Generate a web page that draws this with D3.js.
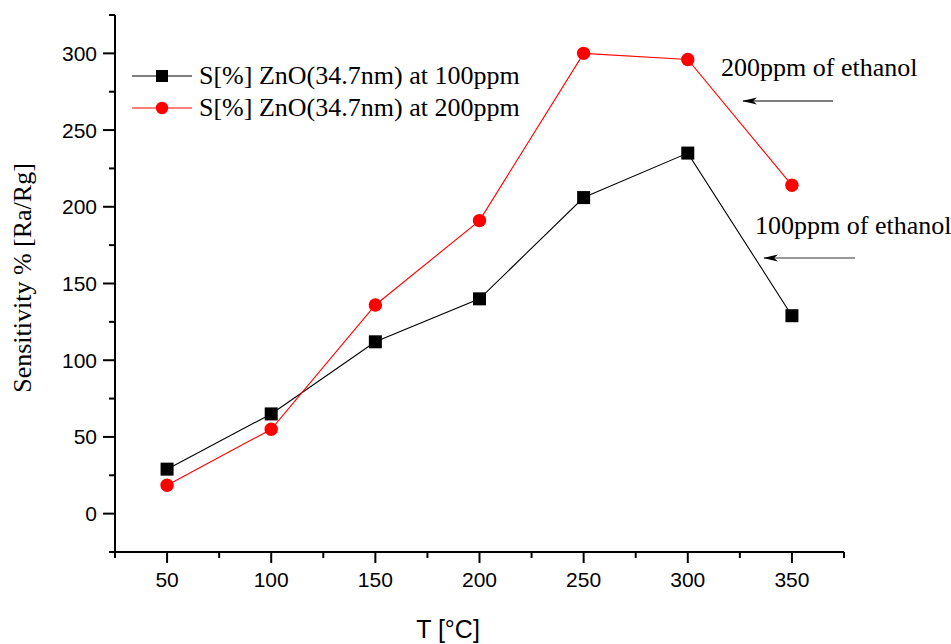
<!DOCTYPE html>
<html>
<head>
<meta charset="utf-8">
<script src="https://cdn.jsdelivr.net/npm/d3@7"></script>
<style>
  body { margin: 0; background: #fff; }
  svg { display: block; }
</style>
</head>
<body>
<div id="chart"></div>
<script>
const temps = [50, 100, 150, 200, 250, 300, 350];
const s100 = [29, 65, 112, 140, 206, 235, 129];
const s200 = [18.5, 55, 136, 191, 300, 296, 214];
const seriesNames = ["S[%] ZnO(34.7nm) at 100ppm", "S[%] ZnO(34.7nm) at 200ppm"];
const xTicks = [50, 100, 150, 200, 250, 300, 350];
const yTicks = [0, 50, 100, 150, 200, 250, 300];

const width = 951;
const height = 644;
const serif = "'Liberation Serif', 'Times New Roman', serif";
const sans = "'Liberation Sans', Arial, sans-serif";

const svg = d3.select("#chart").append("svg")
    .attr("width", width)
    .attr("height", height);

// scales
const x = d3.scaleLinear().domain([25, 375]).range([115, 844]);
const y = d3.scaleLinear().domain([-25, 325]).range([552, 15]);

// axes
const xAxis = svg.append("g")
    .attr("transform", "translate(0,552)");
xAxis.append("line")
    .attr("x1", x(25)).attr("x2", x(375))
    .attr("stroke", "#000").attr("stroke-width", 2);
xAxis.selectAll(".minor")
    .data(d3.range(25, 376, 50))
    .join("line")
    .attr("x1", d => x(d)).attr("x2", d => x(d))
    .attr("y1", 0).attr("y2", 6)
    .attr("stroke", "#000").attr("stroke-width", 2);
xAxis.selectAll(".major")
    .data(xTicks)
    .join("line")
    .attr("x1", d => x(d)).attr("x2", d => x(d))
    .attr("y1", 0).attr("y2", 11)
    .attr("stroke", "#000").attr("stroke-width", 2);
xAxis.selectAll("text")
    .data(xTicks)
    .join("text")
    .attr("x", d => x(d))
    .attr("y", 35)
    .attr("text-anchor", "middle")
    .style("font-family", sans)
    .style("font-size", "21px")
    .text(d => d);

const yAxis = svg.append("g")
    .attr("transform", "translate(115,0)");
yAxis.append("line")
    .attr("y1", y(-25)).attr("y2", y(325))
    .attr("stroke", "#000").attr("stroke-width", 2);
yAxis.selectAll(".minor")
    .data(d3.range(-25, 326, 50))
    .join("line")
    .attr("y1", d => y(d)).attr("y2", d => y(d))
    .attr("x1", 0).attr("x2", -6)
    .attr("stroke", "#000").attr("stroke-width", 2);
yAxis.selectAll(".major")
    .data(yTicks)
    .join("line")
    .attr("y1", d => y(d)).attr("y2", d => y(d))
    .attr("x1", 0).attr("x2", -12)
    .attr("stroke", "#000").attr("stroke-width", 2);
yAxis.selectAll("text")
    .data(yTicks)
    .join("text")
    .attr("x", -18)
    .attr("y", d => y(d))
    .attr("dy", "0.36em")
    .attr("text-anchor", "end")
    .style("font-family", sans)
    .style("font-size", "21px")
    .text(d => d);

// axis titles
svg.append("text")
    .attr("x", 448)
    .attr("y", 638)
    .attr("text-anchor", "middle")
    .style("font-family", sans)
    .style("font-size", "25px")
    .text("T [°C]");

svg.append("text")
    .attr("transform", "translate(31,278) rotate(-90)")
    .attr("text-anchor", "middle")
    .style("font-family", serif)
    .style("font-size", "26px")
    .text("Sensitivity % [Ra/Rg]");

// lines
const line = d3.line()
    .x((d, i) => x(temps[i]))
    .y(d => y(d));

svg.append("path")
    .attr("d", line(s100))
    .attr("fill", "none")
    .attr("stroke", "#000")
    .attr("stroke-width", 1.1);

svg.append("path")
    .attr("d", line(s200))
    .attr("fill", "none")
    .attr("stroke", "#ff0000")
    .attr("stroke-width", 1.1);

// markers
svg.selectAll(".sq")
    .data(s100)
    .join("rect")
    .attr("x", (d, i) => x(temps[i]) - 6.5)
    .attr("y", d => y(d) - 6.5)
    .attr("width", 13)
    .attr("height", 13)
    .attr("fill", "#000");

svg.selectAll(".dot")
    .data(s200)
    .join("circle")
    .attr("cx", (d, i) => x(temps[i]))
    .attr("cy", d => y(d))
    .attr("r", 6.7)
    .attr("fill", "#ff0000");

// legend
const legend = svg.append("g");
const legY = [76, 108];
const legColors = ["#000", "#ff0000"];
legY.forEach((ly, i) => {
    legend.append("line")
        .attr("x1", 132).attr("x2", 192)
        .attr("y1", ly).attr("y2", ly)
        .attr("stroke", legColors[i])
        .attr("stroke-width", 1.1);
    if (i === 0) {
        legend.append("rect")
            .attr("x", 162 - 6).attr("y", ly - 6)
            .attr("width", 12).attr("height", 12)
            .attr("fill", "#000");
    } else {
        legend.append("circle")
            .attr("cx", 162).attr("cy", ly)
            .attr("r", 6.2)
            .attr("fill", "#ff0000");
    }
    legend.append("text")
        .attr("x", 199)
        .attr("y", ly + 8)
        .style("font-family", serif)
        .style("font-size", "26px")
        .text(seriesNames[i]);
});

// annotations
const defs = svg.append("defs");
defs.append("marker")
    .attr("id", "arrHead")
    .attr("viewBox", "0 0 15 8")
    .attr("refX", 14).attr("refY", 4)
    .attr("markerWidth", 15).attr("markerHeight", 8)
    .attr("markerUnits", "userSpaceOnUse")
    .attr("orient", "auto")
    .append("path")
    .attr("d", "M15,4 L0,0.5 L4,4 L0,7.5 Z")
    .attr("fill", "#000");

svg.append("text")
    .attr("x", 721)
    .attr("y", 76)
    .style("font-family", serif)
    .style("font-size", "26px")
    .text("200ppm of ethanol");
svg.append("line")
    .attr("x1", 833).attr("x2", 743)
    .attr("y1", 101).attr("y2", 101)
    .attr("stroke", "#000")
    .attr("stroke-width", 1.2)
    .attr("marker-end", "url(#arrHead)");

svg.append("text")
    .attr("x", 755)
    .attr("y", 234)
    .style("font-family", serif)
    .style("font-size", "26px")
    .text("100ppm of ethanol");
svg.append("line")
    .attr("x1", 855).attr("x2", 764)
    .attr("y1", 258).attr("y2", 258)
    .attr("stroke", "#777")
    .attr("stroke-width", 1.6)
    .attr("marker-end", "url(#arrHead)");
</script>
</body>
</html>
